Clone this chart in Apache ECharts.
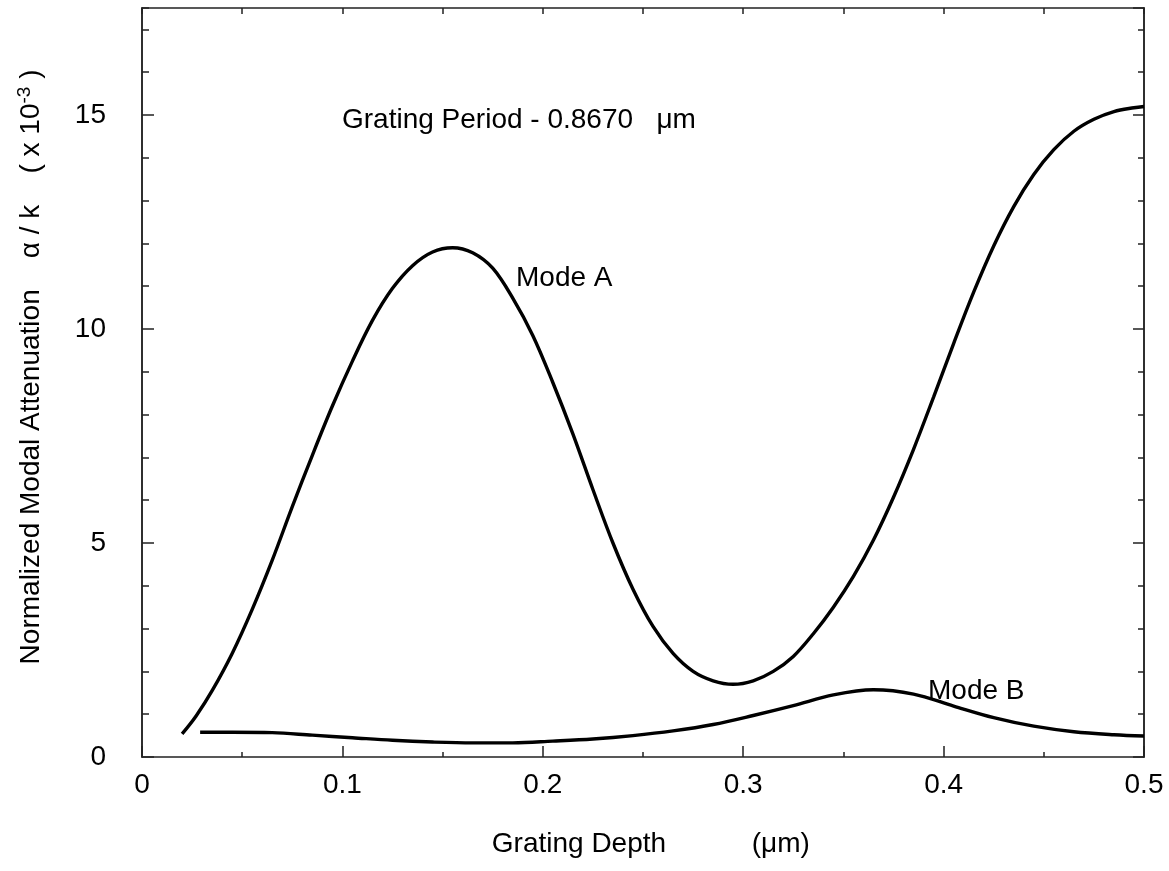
<!DOCTYPE html>
<html lang="en">
<head>
    <meta charset="UTF-8">
    <title>Normalized Modal Attenuation</title>
    <script src="https://cdn.jsdelivr.net/npm/echarts@6/dist/echarts.min.js"></script>
    <style>
        html, body { margin: 0; padding: 0; background: #fff; }
        #main { width: 1169px; height: 871px; }
    </style>
</head>
<body>
<div id="main"></div>
<script type="text/javascript">
    // grating depth (um) vs alpha/k (x 1e-3)
    var modeA_x = [0.02, 0.027, 0.035, 0.045, 0.055, 0.065, 0.075, 0.085, 0.095, 0.105, 0.115, 0.125, 0.135, 0.145, 0.155, 0.165, 0.175, 0.185, 0.195, 0.205, 0.215, 0.225, 0.235, 0.245, 0.255, 0.265, 0.275, 0.285, 0.295, 0.305, 0.315, 0.325, 0.335, 0.345, 0.355, 0.365, 0.375, 0.385, 0.395, 0.405, 0.415, 0.425, 0.435, 0.445, 0.455, 0.465, 0.475, 0.485, 0.495, 0.5];
    var modeA_y = [0.54, 0.96, 1.55, 2.42, 3.45, 4.6, 5.85, 7.05, 8.2, 9.25, 10.2, 10.95, 11.48, 11.8, 11.9, 11.78, 11.42, 10.72, 9.85, 8.75, 7.55, 6.25, 5.0, 3.92, 3.05, 2.42, 2.0, 1.78, 1.7, 1.78, 2.0, 2.35, 2.88, 3.5, 4.22, 5.07, 6.07, 7.19, 8.41, 9.66, 10.86, 11.94, 12.86, 13.61, 14.19, 14.62, 14.9, 15.08, 15.17, 15.2];
    var modeB_x = [0.029, 0.045, 0.065, 0.085, 0.105, 0.125, 0.145, 0.165, 0.185, 0.205, 0.225, 0.245, 0.265, 0.285, 0.305, 0.325, 0.345, 0.365, 0.385, 0.405, 0.425, 0.445, 0.465, 0.485, 0.5];
    var modeB_y = [0.58, 0.58, 0.57, 0.51, 0.45, 0.39, 0.35, 0.33, 0.33, 0.37, 0.42, 0.5, 0.61, 0.76, 0.97, 1.2, 1.45, 1.57, 1.47, 1.19, 0.92, 0.72, 0.59, 0.52, 0.49];
    var xTicks = [0, 0.1, 0.2, 0.3, 0.4, 0.5];
    var yTicks = [0, 5, 10, 15];

    function pairs(xs, ys) {
        var out = [];
        for (var i = 0; i < xs.length; i++) out.push([xs[i], ys[i]]);
        return out;
    }

    var FONT = 'Liberation Sans, Arial, Helvetica, sans-serif';
    var FS = 28;
    var lineCol = '#222';

    function xAx(pos, showLabel, majorLen, minorLen) {
        return {
            type: 'value', position: pos, min: 0, max: 0.5, interval: 0.1,
            axisLine: { show: true, onZero: false, lineStyle: { color: lineCol, width: 1.5 } },
            axisTick: { show: true, inside: true, length: majorLen, lineStyle: { color: lineCol, width: 1.5 } },
            minorTick: { show: true, splitNumber: 2, length: minorLen, lineStyle: { color: lineCol, width: 1.5 } },
            splitLine: { show: false },
            axisLabel: {
                show: showLabel, margin: 14, color: '#000', fontSize: FS, fontFamily: FONT,
                formatter: function (v) { return xTicks.indexOf(+v.toFixed(2)) >= 0 ? String(+v.toFixed(1)) : ''; }
            }
        };
    }

    function yAx(pos, interval, len, showLabel) {
        return {
            type: 'value', position: pos, min: 0, max: 17.5, interval: interval,
            axisLine: { show: true, onZero: false, lineStyle: { color: lineCol, width: 1.5 } },
            axisTick: { show: true, inside: true, length: len, lineStyle: { color: lineCol, width: 1.5 } },
            splitLine: { show: false },
            axisLabel: {
                show: showLabel, margin: 36, color: '#000', fontSize: FS, fontFamily: FONT,
                showMaxLabel: false,
                formatter: function (v) { return yTicks.indexOf(v) >= 0 ? String(v) : ''; }
            }
        };
    }

    var yMain = yAx('left', 5, 12, true);
    yMain.name = '    Normalized Modal Attenuation    α / k    ( x 10{sup|-3} )';
    yMain.nameLocation = 'middle';
    yMain.nameGap = 94;
    yMain.nameRotate = 90;
    yMain.nameTextStyle = {
        color: '#000', fontSize: FS, fontFamily: FONT,
        rich: { sup: { fontSize: 19, fontFamily: FONT, color: '#000', verticalAlign: 'top', padding: [0, 0, 14, 0] } }
    };

    var xMain = xAx('bottom', true, 11, 5);
    xMain.name = '  Grating Depth           (μm)';
    xMain.nameLocation = 'middle';
    xMain.nameGap = 73;
    xMain.nameTextStyle = { color: '#000', fontSize: FS, fontFamily: FONT };

    var chart = echarts.init(document.getElementById('main'));
    chart.setOption({
        animation: false,
        backgroundColor: '#fff',
        grid: { left: 142, right: 25, top: 8, bottom: 114 },
        xAxis: [xMain, xAx('top', false, 6, 6)],
        yAxis: [yMain, yAx('left', 1, 7, false), yAx('right', 5, 11, false), yAx('right', 1, 6, false)],
        series: [{
            name: 'Mode A', type: 'line', xAxisIndex: 0, yAxisIndex: 0,
            data: pairs(modeA_x, modeA_y), smooth: 0.35, showSymbol: false,
            lineStyle: { color: '#000', width: 3.4 }
        }, {
            name: 'Mode B', type: 'line', xAxisIndex: 0, yAxisIndex: 0,
            data: pairs(modeB_x, modeB_y), smooth: 0.35, showSymbol: false,
            lineStyle: { color: '#000', width: 3.4 }
        }],
        graphic: [
            { type: 'text', left: 342, top: 106, style: { text: 'Grating Period - 0.8670   μm', fill: '#000', font: FS + 'px ' + FONT } },
            { type: 'text', left: 516, top: 264, style: { text: 'Mode A', fill: '#000', font: FS + 'px ' + FONT } },
            { type: 'text', left: 928, top: 677, style: { text: 'Mode B', fill: '#000', font: FS + 'px ' + FONT } }
        ]
    });
</script>
</body>
</html>
